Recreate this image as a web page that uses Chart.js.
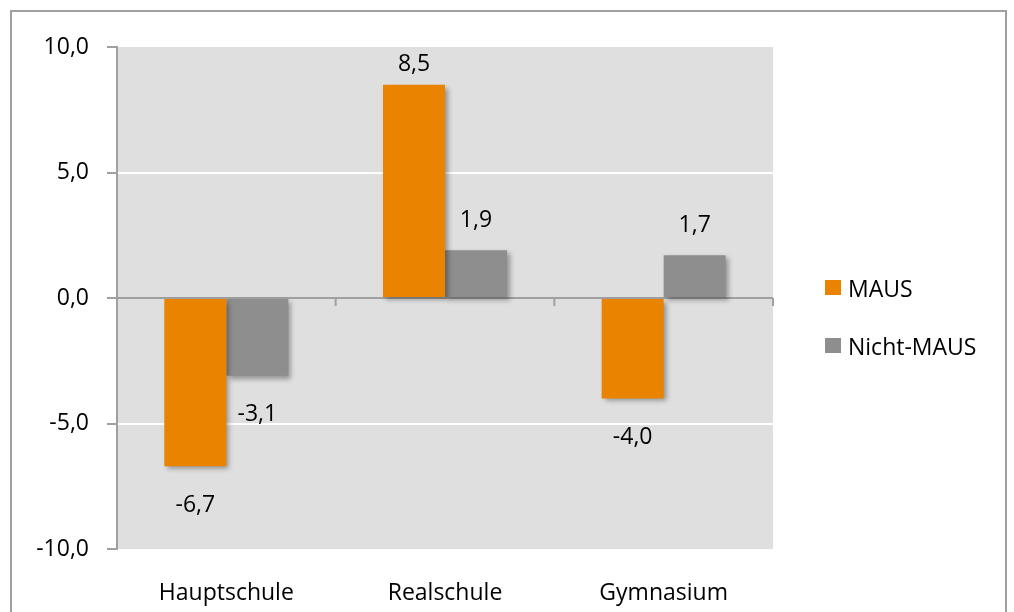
<!DOCTYPE html>
<html>
<head>
<meta charset="utf-8">
<script src="https://cdn.jsdelivr.net/npm/chart.js@4"></script>
<style>
  html, body { margin: 0; padding: 0; background: #fff; }
  #wrap { width: 1014px; height: 612px; }
</style>
</head>
<body>
<div id="wrap"><canvas id="chart1" width="1014" height="612"></canvas></div>
<script>
// Daten
const schularten = ['Hauptschule', 'Realschule', 'Gymnasium'];
const mausWerte = [-6.7, 8.5, -4.0];
const nichtMausWerte = [-3.1, 1.9, 1.7];
const reihenNamen = ['MAUS', 'Nicht-MAUS'];

const ORANGE = '#E98300';
const GRAU = '#8E8E8E';
const ACHSE = '#A0A0A0';
const FAMILIE = '"Open Sans", "DejaVu Sans", sans-serif';
const SCHRIFT = '23px ' + FAMILIE;

function fmt(v) {
    return v.toFixed(1).replace('.', ',');
}

// Hintergrund, Rahmen, Nulllinie, Beschriftungen und Legende
const zeichnenPlugin = {
    id: 'zeichnen',
    beforeDraw(chart) {
        const ctx = chart.ctx;
        const a = chart.chartArea;
        ctx.save();
        ctx.strokeStyle = ACHSE;
        ctx.lineWidth = 2;
        ctx.strokeRect(11, 11, 995, 620);
        ctx.fillStyle = '#DFDFDF';
        ctx.fillRect(a.left, a.top, a.right - a.left, a.bottom - a.top);
        ctx.restore();
    },
    beforeDatasetsDraw(chart) {
        const ctx = chart.ctx;
        const a = chart.chartArea;
        const y0 = chart.scales.y.getPixelForValue(0);
        ctx.save();
        ctx.strokeStyle = ACHSE;
        ctx.lineWidth = 2;
        ctx.beginPath();
        ctx.moveTo(a.left, y0);
        ctx.lineTo(a.right, y0);
        const n = schularten.length;
        for (let i = 1; i <= n; i++) {
            const x = a.left + (a.right - a.left) * i / n;
            ctx.moveTo(x, y0);
            ctx.lineTo(x, y0 + 8);
        }
        ctx.stroke();
        ctx.restore();
        // Schatten fuer Balken
        ctx.save();
        ctx.shadowColor = 'rgba(0,0,0,0.35)';
        ctx.shadowBlur = 5;
        ctx.shadowOffsetX = 3;
        ctx.shadowOffsetY = 3;
    },
    afterDatasetsDraw(chart) {
        const ctx = chart.ctx;
        const a = chart.chartArea;
        ctx.restore();
        ctx.save();
        ctx.font = SCHRIFT;
        ctx.fillStyle = '#000';
        ctx.textAlign = 'center';
        ctx.textBaseline = 'middle';
        chart.data.datasets.forEach((ds, di) => {
            chart.getDatasetMeta(di).data.forEach((bar, i) => {
                const v = ds.data[i];
                let y = v >= 0 ? bar.y - 30 : bar.y + 39;
                if (y < a.top + 17) y = a.top + 17;
                ctx.fillText(fmt(v), bar.x, y);
            });
        });
        // Legende
        ctx.textAlign = 'left';
        const farben = [ORANGE, GRAU];
        reihenNamen.forEach((name, i) => {
            const y = 288 + i * 58;
            ctx.fillStyle = farben[i];
            ctx.fillRect(825, y - 8, 16, 15);
            ctx.fillStyle = '#000';
            ctx.fillText(name, 848, y + 2);
        });
        ctx.restore();
    }
};

const ctx = document.getElementById('chart1').getContext('2d');
const chart = new Chart(ctx, {
    type: 'bar',
    data: {
        labels: schularten,
        datasets: [{
            label: reihenNamen[0],
            data: mausWerte,
            backgroundColor: ORANGE,
            categoryPercentage: 0.567,
            barPercentage: 1
        }, {
            label: reihenNamen[1],
            data: nichtMausWerte,
            backgroundColor: GRAU,
            categoryPercentage: 0.567,
            barPercentage: 1
        }]
    },
    options: {
        responsive: false,
        animation: false,
        layout: { padding: { top: 47, right: 241, left: 0, bottom: 0 } },
        plugins: {
            legend: { display: false },
            tooltip: { enabled: false }
        },
        scales: {
            x: {
                grid: { display: false },
                border: { display: false },
                ticks: { color: '#000', font: { family: FAMILIE, size: 23 }, padding: 23 },
                afterFit(scale) { scale.height = 63; }
            },
            y: {
                min: -10,
                max: 10,
                ticks: {
                    stepSize: 5,
                    color: '#000',
                    font: { family: FAMILIE, size: 23 },
                    padding: 18,
                    callback: (v) => fmt(v)
                },
                grid: {
                    color: (c) => (c.tick && (c.tick.value === 5 || c.tick.value === -5)) ? '#FFFFFF' : 'rgba(0,0,0,0)',
                    lineWidth: 2,
                    tickColor: ACHSE,
                    tickLength: 10
                },
                border: { display: true, color: ACHSE, width: 2 },
                afterFit(scale) { scale.width = 117; }
            }
        }
    },
    plugins: [zeichnenPlugin]
});
</script>
</body>
</html>
